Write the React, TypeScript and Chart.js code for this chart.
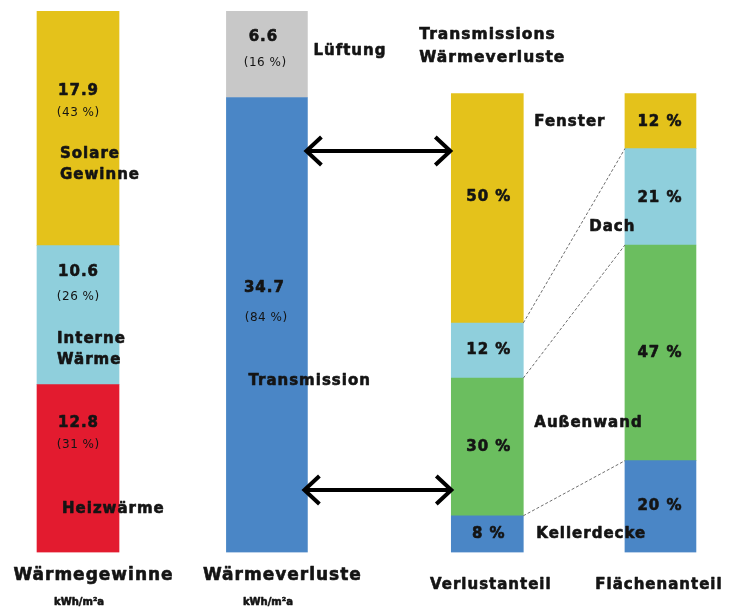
import React, { useEffect, useRef } from 'react';
import { Chart, registerables } from 'chart.js';

Chart.register(...registerables);

// ---------------- data ----------------
const barLabels = ['Wärmegewinne', 'Wärmeverluste', 'Verlustanteil', 'Flächenanteil'];
const unitLabel = 'kWh/m²a';
const headerLines = ['Transmissions', 'Wärmeverluste'];

// heat gains (bottom -> top)
const gainNames = [['Heizwärme'], ['Interne', 'Wärme'], ['Solare', 'Gewinne']];
const gainValues = [12.8, 10.6, 17.9];
const gainShares = [31, 26, 43];

// heat losses (bottom -> top)
const lossNames = ['Transmission', 'Lüftung'];
const lossValues = [34.7, 6.6];
const lossShares = [84, 16];

// transmission components (bottom -> top)
const componentNames = ['Kellerdecke', 'Außenwand', 'Dach', 'Fenster'];
const lossSharePct = [8, 30, 12, 50];
const areaSharePct = [20, 47, 21, 12];

// ---------------- styles / layout ----------------
const gainColors = ['#E31B2F', '#8FCFDC', '#E4C21B'];
const lossColors = ['#4A86C6', '#C8C8C8'];
const componentColors = ['#4A86C6', '#6BBE5F', '#8FCFDC', '#E4C21B'];

const SLOT_COUNT = 46;
const barSlots = [4.5, 16.5, 30.5, 41.5];
const barWidths = [82, 81, 72, 71];
const pctBarFraction = 459 / 541.5;

const FONT = '"DejaVu Sans", "Open Sans", sans-serif';
const fValue = `bold 15px ${FONT}`;
const fShare = `12px ${FONT}`;
const fName = `bold 15px ${FONT}`;
const fPct = `bold 15px ${FONT}`;
const fHeader = `bold 15.5px ${FONT}`;
const fBottomBig = `bold 17px ${FONT}`;
const fBottomSmall = `bold 15px ${FONT}`;
const fUnit = `bold 10px ${FONT}`;
const TEXT = '#141414';

const fmt1 = (v: number) => v.toFixed(1);
const pctParen = (v: number) => `(${v} %)`;
const pct = (v: number) => `${v} %`;

const gainTotal = gainValues.reduce((a, b) => a + b, 0);

function seg(x: number, y: number) {
  return [{ x, y }];
}

const datasets: any[] = [];
gainValues.forEach((v, i) =>
  datasets.push({ label: gainNames[i].join(' '), data: seg(barSlots[0], v), backgroundColor: gainColors[i], barThickness: barWidths[0], yAxisID: 'y' })
);
lossValues.forEach((v, i) =>
  datasets.push({ label: lossNames[i], data: seg(barSlots[1], v), backgroundColor: lossColors[i], barThickness: barWidths[1], yAxisID: 'y' })
);
lossSharePct.forEach((v, i) =>
  datasets.push({ label: componentNames[i], data: seg(barSlots[2], v), backgroundColor: componentColors[i], barThickness: barWidths[2], yAxisID: 'y2' })
);
areaSharePct.forEach((v, i) =>
  datasets.push({ label: componentNames[i], data: seg(barSlots[3], v), backgroundColor: componentColors[i], barThickness: barWidths[3], yAxisID: 'y2' })
);
const DS_GAIN = 0;
const DS_LOSS = 3;
const DS_LPCT = 5;
const DS_APCT = 9;

function drawText(ctx: CanvasRenderingContext2D, s: string, x: number, y: number, font: string, align: CanvasTextAlign = 'left', spacing = 1) {
  ctx.font = font;
  ctx.textAlign = align;
  ctx.textBaseline = 'middle';
  (ctx as any).letterSpacing = `${spacing}px`;
  ctx.fillStyle = TEXT;
  const px = x + (align === 'center' ? spacing / 2 : 0);
  ctx.fillText(s, px, y);
  if (font.startsWith('bold')) {
    ctx.strokeStyle = TEXT;
    ctx.lineWidth = 0.6;
    ctx.lineJoin = 'round';
    ctx.strokeText(s, px, y);
  }
}

function drawArrow(ctx: CanvasRenderingContext2D, x1: number, x2: number, y: number) {
  ctx.save();
  ctx.strokeStyle = '#000';
  ctx.lineWidth = 4;
  ctx.lineJoin = 'miter';
  ctx.beginPath();
  ctx.moveTo(x1 + 2, y);
  ctx.lineTo(x2 - 2, y);
  ctx.stroke();
  ctx.beginPath();
  ctx.moveTo(x1 + 16, y - 14);
  ctx.lineTo(x1 + 1, y);
  ctx.lineTo(x1 + 16, y + 14);
  ctx.stroke();
  ctx.beginPath();
  ctx.moveTo(x2 - 16, y - 14);
  ctx.lineTo(x2 - 1, y);
  ctx.lineTo(x2 - 16, y + 14);
  ctx.stroke();
  ctx.restore();
}

const annotationPlugin = {
  id: 'annotations',
  afterDatasetsDraw(chart: any) {
    const ctx: CanvasRenderingContext2D = chart.ctx;
    const area = chart.chartArea;
    const box = (ds: number) => {
      const e = chart.getDatasetMeta(ds).data[0] as any;
      const top = Math.min(e.y, e.base);
      const bottom = Math.max(e.y, e.base);
      return { left: e.x - e.width / 2, right: e.x + e.width / 2, cx: e.x, top, bottom, mid: (top + bottom) / 2 };
    };
    ctx.save();

    // connector lines between loss share and area share bars
    const b3 = box(DS_LPCT);
    const b4 = box(DS_APCT);
    ctx.save();
    ctx.strokeStyle = '#6e6e6e';
    ctx.lineWidth = 1;
    ctx.setLineDash([3, 2]);
    for (let k = 0; k < componentNames.length - 1; k++) {
      const s3 = box(DS_LPCT + k);
      const s4 = box(DS_APCT + k);
      ctx.beginPath();
      ctx.moveTo(s3.right, s3.top);
      ctx.lineTo(s4.left, s4.top);
      ctx.stroke();
    }
    ctx.restore();

    // gains bar
    const gValDy = [38, 26, 80];
    const gShareDy = [60, 51, 102];
    const gNameDy = [124, 93, 143];
    const gNameDx = [25, 20, 23];
    gainValues.forEach((v, i) => {
      const b = box(DS_GAIN + i);
      drawText(ctx, fmt1(v), b.cx, b.top + gValDy[i], fValue, 'center');
      drawText(ctx, pctParen(gainShares[i]), b.cx, b.top + gShareDy[i], fShare, 'center', 0.5);
      gainNames[i].forEach((line, k) => {
        drawText(ctx, line, b.left + gNameDx[i], b.top + gNameDy[i] + k * 21, fName, 'left');
      });
    });

    // losses bar
    const bl = box(DS_LOSS);
    const bv = box(DS_LOSS + 1);
    drawText(ctx, fmt1(lossValues[1]), bv.cx - 4, bv.top + 26, fValue, 'center');
    drawText(ctx, pctParen(lossShares[1]), bv.cx - 2, bv.top + 52, fShare, 'center', 0.5);
    drawText(ctx, lossNames[1], bv.right + 6, bv.top + 40, fName, 'left');
    drawText(ctx, fmt1(lossValues[0]), bl.cx - 3, bl.bottom - 264.5, fValue, 'center');
    drawText(ctx, pctParen(lossShares[0]), bl.cx - 1, bl.bottom - 234.5, fShare, 'center', 0.5);
    drawText(ctx, lossNames[0], bl.left + 22, bl.bottom - 171.5, fName, 'left');

    // header
    headerLines.forEach((line, k) => {
      drawText(ctx, line, b3.left - 32, area.top + 24 + k * 23, fHeader, 'left');
    });

    // percent labels
    const lpDy = [0, 0, 0, -11];
    lossSharePct.forEach((v, i) => {
      const b = box(DS_LPCT + i);
      drawText(ctx, pct(v), b.cx + 1, b.mid + lpDy[i], fPct, 'center');
    });
    const apDy = [0, 0, 1, 1.5];
    areaSharePct.forEach((v, i) => {
      const b = box(DS_APCT + i);
      drawText(ctx, pct(v), b.cx - 1, b.mid + apDy[i], fPct, 'center');
    });

    // component names
    const kd = box(DS_LPCT);
    const aw = box(DS_LPCT + 1);
    const da = box(DS_APCT + 2);
    const fe = box(DS_APCT + 3);
    drawText(ctx, componentNames[0], b3.right + 13, kd.mid, fName, 'left');
    drawText(ctx, componentNames[1], b3.right + 11, aw.mid - 24, fName, 'left');
    drawText(ctx, componentNames[2], b3.right + 66, da.bottom - 18, fName, 'left');
    drawText(ctx, componentNames[3], b3.right + 11, fe.mid + 1.5, fName, 'left');

    // arrows
    drawArrow(ctx, bl.right - 2, b3.left, area.top + 140);
    drawArrow(ctx, bl.right - 4, b3.left + 1, area.top + 479);

    // bottom labels
    const bottomBoxes = [box(DS_GAIN), bl, b3, b4];
    const bDx = [15, 15, 3, -2];
    bottomBoxes.forEach((b, i) => {
      if (i < 2) {
        drawText(ctx, barLabels[i], b.cx + bDx[i], area.bottom + 23.5, fBottomBig, 'center');
        drawText(ctx, unitLabel, b.cx + 1, area.bottom + 49.5, fUnit, 'center', 0);
      } else {
        drawText(ctx, barLabels[i], b.cx + bDx[i], area.bottom + 32.5, fBottomSmall, 'center');
      }
    });

    ctx.restore();
  },
};

export default function App() {
  const ref = useRef<HTMLCanvasElement>(null);
  useEffect(() => {
    if (!ref.current) return;
    const chart = new Chart(ref.current, {
      type: 'bar',
      data: { datasets },
      options: {
        responsive: false,
        animation: false,
        devicePixelRatio: 1,
        layout: { padding: { left: 7.17, right: 2.7, top: 11, bottom: 57.5 } },
        plugins: { legend: { display: false }, tooltip: { enabled: false } },
        scales: {
          x: { type: 'linear', min: 0, max: SLOT_COUNT, offset: false, stacked: true, display: false },
          y: { stacked: true, min: 0, max: gainTotal, display: false },
          y2: { stacked: true, min: 0, max: 100 / pctBarFraction, display: false },
        },
      } as any,
      plugins: [annotationPlugin],
    });
    return () => chart.destroy();
  }, []);
  return (
    <div style={{ position: 'absolute', left: 0, top: 0, width: 734, height: 610, background: '#fff' }}>
      <canvas ref={ref} width={734} height={610} style={{ display: 'block' }} />
    </div>
  );
}
